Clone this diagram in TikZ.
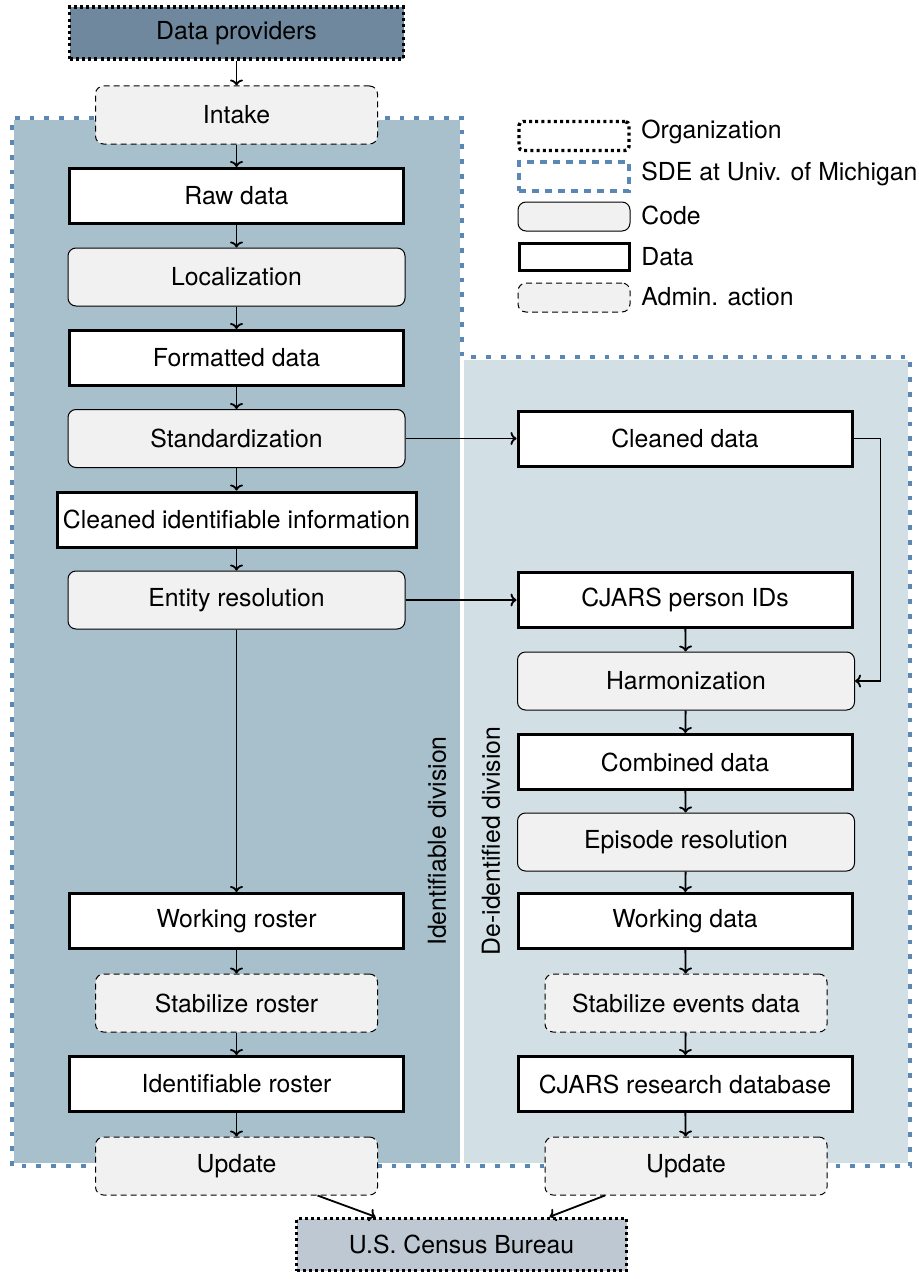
\documentclass[tikz,border=0pt]{standalone}
\usepackage{fontspec}
\setmainfont{TeX Gyre Heros}
\usetikzlibrary{arrows.meta,calc}
\definecolor{leftfill}{RGB}{167,192,203}
\definecolor{rightfill}{RGB}{210,223,229}
\definecolor{provfill}{RGB}{111,136,157}
\definecolor{censusfill}{RGB}{190,200,210}
\definecolor{codefill}{RGB}{241,241,241}
\definecolor{sdeblue}{RGB}{91,135,181}
\tikzset{
  every node/.style={font=\fontsize{12.4}{14}\selectfont, inner sep=0pt},
  databox/.style={draw, line width=1.5pt, fill=white, minimum width=167pt, minimum height=27.5pt},
  codebox/.style={draw, line width=0.5pt, rounded corners=4pt, fill=codefill, minimum width=168.5pt, minimum height=29pt},
  adminbox/.style={draw, line width=0.5pt, dash pattern=on 3pt off 2pt, rounded corners=4pt, fill=codefill, minimum width=141pt, minimum height=29pt},
  orgbox/.style={draw, line width=1.7pt, dash pattern=on 1.5pt off 1.6pt},
  sdeline/.style={draw=sdeblue, line width=2.4pt, dash pattern=on 2.4pt off 5pt},
  legsde/.style={draw=sdeblue, line width=2.2pt, dash pattern=on 3.5pt off 3pt},
  arr/.style={-{To[length=3pt,width=6.5pt]}, line width=0.9pt},
  divlabel/.style={rotate=90, anchor=center},
  legtext/.style={anchor=west},
}
\begin{document}
\begin{tikzpicture}[x=0.5pt,y=-0.5pt]
\useasboundingbox (0,0) rectangle (918,1279);
% regions
\fill[leftfill] (14,120) rectangle (460,1163);
\fill[rightfill] (464,360) rectangle (908,1163);
\draw[sdeline] (12,1166) -- (12,118) -- (462,118) -- (462,357) -- (910,357) -- (910,1166) -- cycle;

% division labels
\node[divlabel] (idlab) at (437,841) {Identifiable division};
\node[divlabel] (deidlab) at (491,841) {De-identified division};

% left column
\node[orgbox, fill=provfill, minimum width=167pt, minimum height=26pt] (prov) at (236.5,33) {Data providers};
\node[adminbox] (intake) at (236.5,115) {Intake};
\node[databox] (raw) at (236.5,196) {Raw data};
\node[codebox] (local) at (236.5,277) {Localization};
\node[databox] (fmt) at (236.5,358) {Formatted data};
\node[codebox] (std) at (236.5,438.5) {Standardization};
\node[databox, minimum width=179.5pt] (cii) at (236.5,519.5) {Cleaned identifiable information};
\node[codebox] (ent) at (236.5,600) {Entity resolution};
\node[databox] (wros) at (236.5,921) {Working roster};
\node[adminbox] (stabr) at (236.5,1003) {Stabilize roster};
\node[databox] (idros) at (236.5,1084) {Identifiable roster};
\node[adminbox] (updl) at (236.5,1166) {Update};

% right column
\node[databox] (cd) at (685,438.5) {Cleaned data};
\node[databox] (cjid) at (685,600) {CJARS person IDs};
\node[codebox] (harm) at (686,681) {Harmonization};
\node[databox] (comb) at (685,762) {Combined data};
\node[codebox] (epi) at (686,842) {Episode resolution};
\node[databox] (wdat) at (685,921) {Working data};
\node[adminbox] (stabe) at (686,1003) {Stabilize events data};
\node[databox] (cjdb) at (685,1084) {CJARS research database};
\node[adminbox] (updr) at (686,1166) {Update};

\node[orgbox, fill=censusfill, minimum width=165pt, minimum height=26pt] (census) at (461.5,1244.5) {U.S. Census Bureau};

% arrows left
\draw[arr] (prov) -- (intake);
\draw[arr] (intake) -- (raw);
\draw[arr] (raw) -- (local);
\draw[arr] (local) -- (fmt);
\draw[arr] (fmt) -- (std);
\draw[arr] (std) -- (cii);
\draw[arr] (cii) -- (ent);
\draw[arr] (ent) -- (wros);
\draw[arr] (wros) -- (stabr);
\draw[arr] (stabr) -- (idros);
\draw[arr] (idros) -- (updl);
% arrows right
\draw[arr] (std) -- (cd);
\draw[arr] (ent) -- (cjid);
\draw[arr] (cjid) -- (harm);
\draw[arr] (cd.east) -- ++(13.5pt,0) |- (harm.east);
\draw[arr] (harm) -- (comb);
\draw[arr] (comb) -- (epi);
\draw[arr] (epi) -- (wdat);
\draw[arr] (wdat) -- (stabe);
\draw[arr] (stabe) -- (cjdb);
\draw[arr] (cjdb) -- (updr);
% to census
\draw[arr] ([xshift=40.5pt]updl.south) -- ([xshift=-43pt]census.north);
\draw[arr] ([xshift=-40.5pt]updr.south) -- ([xshift=44pt]census.north);

% legend
\node[orgbox, rounded corners=2pt, minimum width=55pt, minimum height=14.5pt] (legorg) at (574,136) {};
\node[legtext] (legorgt) at (641,132) {Organization};
\node[legsde, minimum width=55pt, minimum height=14.5pt] (legsdebox) at (574,176.5) {};
\node[legtext] (legsdet) at (641,174) {SDE at Univ. of Michigan};
\node[codebox, minimum width=56pt, minimum height=14.5pt] (legcode) at (574,216.5) {};
\node[legtext] (legcodet) at (641,215) {Code};
\node[databox, minimum width=55pt, minimum height=13.5pt] (legdata) at (574,257) {};
\node[legtext] (legdatat) at (641,257) {Data};
\node[adminbox, minimum width=56pt, minimum height=14.5pt] (legadm) at (574,297.5) {};
\node[legtext] (legadmt) at (641,297) {Admin. action};
\end{tikzpicture}
\end{document}
